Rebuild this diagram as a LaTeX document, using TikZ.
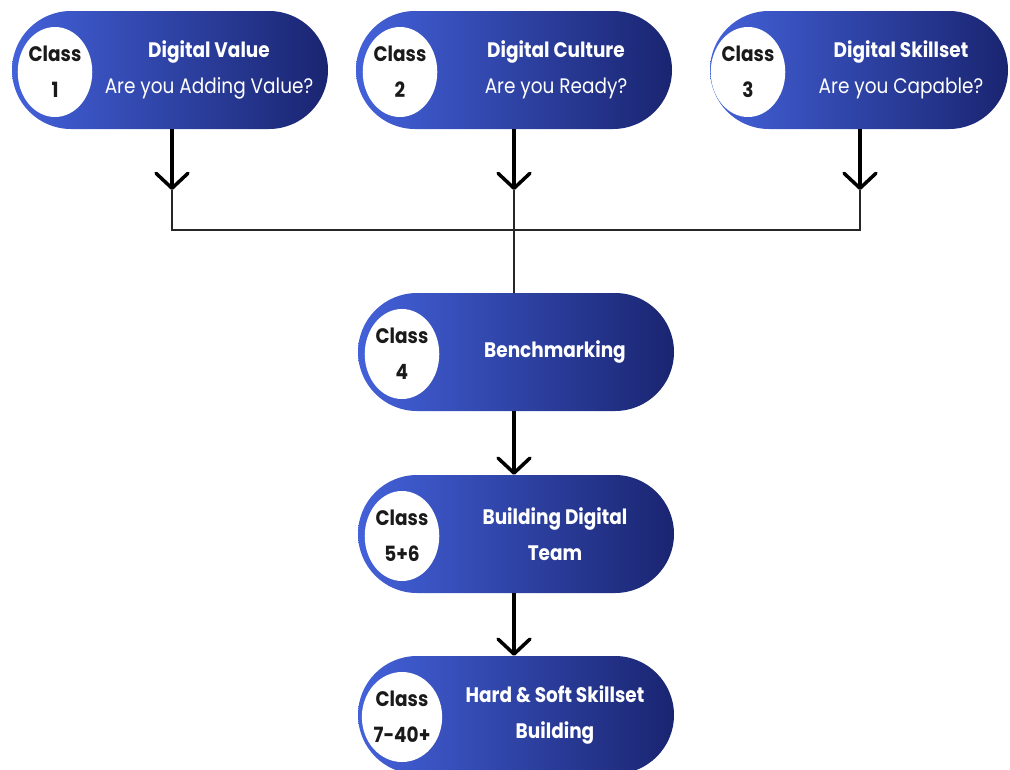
\documentclass[tikz,border=0pt]{standalone}
\usepackage{fontspec}
\setmainfont{Poppins}[FakeStretch=0.88]
\usetikzlibrary{shapes.misc,shapes.geometric,arrows.meta}
\definecolor{pillL}{HTML}{4361D9}
\definecolor{pillR}{HTML}{1A2571}
\definecolor{classtxt}{HTML}{1A1A1A}
\begin{document}
\begin{tikzpicture}[x=1pt,y=-1pt,
 pill/.style={rounded rectangle, minimum width=316pt, minimum height=118pt, left color=pillL, right color=pillR, draw=none, inner sep=0pt},
 badge/.style={ellipse, fill=white, minimum width=72pt, minimum height=90pt, inner sep=0pt, align=center, font=\fontsize{21}{36}\selectfont\bfseries, text=classtxt},
 lbl/.style={text=white, align=center, font=\fontsize{21}{36}\selectfont},
 arr/.style={line width=3.5pt, -{Straight Barb[length=15pt,width=32pt,line join=round,line cap=round]}},
 link/.style={line width=2pt, draw=black!85}
]
\useasboundingbox (0,0) rectangle (1010,769);
% pills
\node[pill] (p1) at (170,70) {};
\node[pill] (p2) at (514,70) {};
\node[pill, minimum width=298pt] (p3) at (859,70) {};
\node[pill] (p4) at (516,352) {};
\node[pill] (p5) at (516,534) {};
\node[pill] (p6) at (516,715) {};
% badges
\node[badge] (c1) at (55,72) {Class\\1};
\node[badge] (c2) at (400,72) {Class\\2};
\node[badge] (c3) at (748,72) {Class\\3};
\node[badge] (c4) at (402,354) {Class\\4};
\node[badge] (c5) at (402,536) {Class\\5+6};
\node[badge] (c6) at (402,717) {Class\\7-40+};
% labels
\node[lbl] (t1) at (209,70) {\textbf{Digital Value}\\Are you Adding Value?};
\node[lbl] (t2) at (556,70) {\textbf{Digital Culture}\\Are you Ready?};
\node[lbl] (t3) at (901,70) {\textbf{Digital Skillset}\\Are you Capable?};
\node[lbl] (t4) at (555,352) {\textbf{Benchmarking}};
\node[lbl] (t5) at (555,534) {\textbf{Building Digital}\\\textbf{Team}};
\node[lbl] (t6) at (555,715) {\textbf{Hard \& Soft Skillset}\\\textbf{Building}};
% connectors
\coordinate (a1) at (172,190);
\coordinate (a2) at (514,190);
\coordinate (a3) at (860,190);
\coordinate (b1) at (172,230);
\coordinate (b3) at (860,230);
\draw[arr] (p1.south -| a1) -- (a1);
\draw[arr] (p2.south -| a2) -- (a2);
\draw[arr] (p3.south -| a3) -- (a3);
\draw[link] (a1) -- (b1) -- (b3) -- (a3);
\draw[link] (a2) -- (p4.north -| a2);
\draw[arr] (p4.south -| a2) -- (p5.north -| a2);
\draw[arr] (p5.south -| a2) -- (p6.north -| a2);
\end{tikzpicture}
\end{document}
